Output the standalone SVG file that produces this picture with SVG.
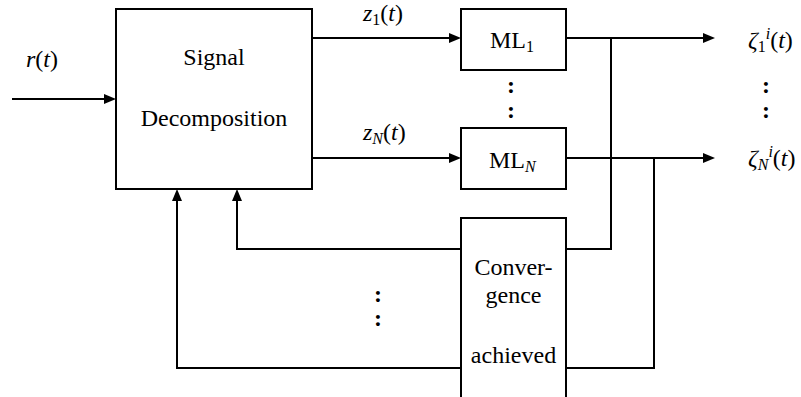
<svg xmlns="http://www.w3.org/2000/svg" width="801" height="397" viewBox="0 0 801 397">
<g id="connectors" stroke="#000" stroke-width="2" fill="none">
<path d="M12,99 H106"/>
<path d="M312,38 H451"/>
<path d="M312,158 H451"/>
<path d="M566,38 H705"/>
<path d="M566,158 H705"/>
<path d="M611,38 V249 H566"/>
<path d="M654,158 V368 H566"/>
<path d="M461,249 H237 V199"/>
<path d="M461,368 H177 V199"/>
<g fill="#000" stroke="none">
<polygon points="104,94 116,99 104,104"/>
<polygon points="449,33 461,38 449,43"/>
<polygon points="449,153 461,158 449,163"/>
<polygon points="703,33 715,38 703,43"/>
<polygon points="703,153 715,158 703,163"/>
<polygon points="232,201 237,189 242,201"/>
<polygon points="172,201 177,189 182,201"/>
</g>
</g>
<g id="signal-decomposition">
<rect x="116" y="9" width="196" height="180" fill="#fff" stroke="#000" stroke-width="2"/>
<text font-family="Liberation Serif" font-size="24" text-anchor="middle" x="214" y="65">Signal</text>
<text font-family="Liberation Serif" font-size="24" text-anchor="middle" x="214" y="126">Decomposition</text>
</g>
<g id="ml1">
<rect x="461" y="9" width="105" height="61" fill="#fff" stroke="#000" stroke-width="2"/>
<text font-family="Liberation Serif" font-size="24" x="490" y="48">ML<tspan font-size="16" dy="4">1</tspan></text>
</g>
<g id="mlN">
<rect x="461" y="128" width="105" height="61" fill="#fff" stroke="#000" stroke-width="2"/>
<text font-family="Liberation Serif" font-size="24" x="489" y="168">ML<tspan font-style="italic" font-size="16" dy="4">N</tspan></text>
</g>
<g id="convergence">
<rect x="461" y="218" width="105" height="190" fill="#fff" stroke="#000" stroke-width="2"/>
<text font-family="Liberation Serif" font-size="24" text-anchor="middle" x="513.5" y="275">Conver-</text>
<text font-family="Liberation Serif" font-size="24" text-anchor="middle" x="513.5" y="303">gence</text>
<text font-family="Liberation Serif" font-size="24" text-anchor="middle" x="513.5" y="363">achieved</text>
</g>
<g id="labels">
<text font-family="Liberation Serif" font-size="24" x="26" y="67"><tspan font-style="italic">r</tspan>(<tspan font-style="italic">t</tspan>)</text>
<text font-family="Liberation Serif" font-size="24" x="363" y="21"><tspan font-style="italic">z</tspan><tspan font-size="16" dy="4">1</tspan><tspan dy="-4">(</tspan><tspan font-style="italic">t</tspan>)</text>
<text font-family="Liberation Serif" font-size="24" x="363" y="140"><tspan font-style="italic">z</tspan><tspan font-style="italic" font-size="16" dy="4">N</tspan><tspan dy="-4">(</tspan><tspan font-style="italic">t</tspan>)</text>
<text font-family="Liberation Serif" font-size="24" x="748" y="48"><tspan font-style="italic">&#950;</tspan><tspan font-size="16" dy="4">1</tspan><tspan font-style="italic" font-size="16" dy="-13">i</tspan><tspan dy="9">(</tspan><tspan font-style="italic">t</tspan>)</text>
<text font-family="Liberation Serif" font-size="24" x="748" y="166"><tspan font-style="italic">&#950;</tspan><tspan font-style="italic" font-size="16" dy="4">N</tspan><tspan font-style="italic" font-size="16" dy="-13">i</tspan><tspan dy="9">(</tspan><tspan font-style="italic">t</tspan>)</text>
<text font-family="Liberation Serif" font-size="24" font-weight="bold" text-anchor="middle" x="766" y="93">:</text>
<text font-family="Liberation Serif" font-size="24" font-weight="bold" text-anchor="middle" x="766" y="118">:</text>
<text font-family="Liberation Serif" font-size="24" font-weight="bold" text-anchor="middle" x="511" y="93">:</text>
<text font-family="Liberation Serif" font-size="24" font-weight="bold" text-anchor="middle" x="511" y="118">:</text>
<text font-family="Liberation Serif" font-size="24" font-weight="bold" text-anchor="middle" x="378" y="302">:</text>
<text font-family="Liberation Serif" font-size="24" font-weight="bold" text-anchor="middle" x="378" y="326">:</text>
</g>
</svg>
